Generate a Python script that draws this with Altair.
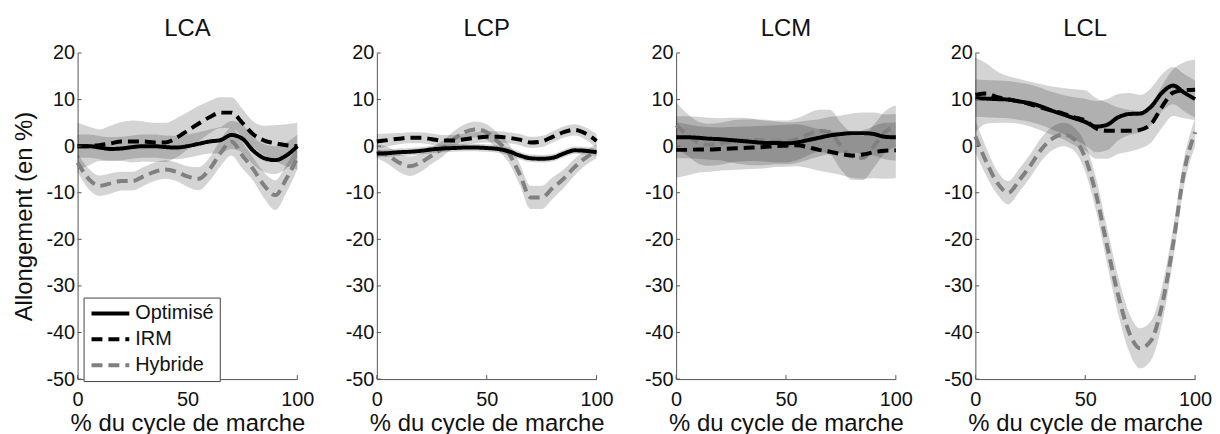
import altair as alt
import pandas as pd

PCT = list(range(0, 101, 5))
PANELS = ["LCA", "LCP", "LCM", "LCL"]
SERIES = ["Optimisé", "IRM", "Hybride"]
YTICKS = [-50, -40, -30, -20, -10, 0, 10, 20]
XTICKS = [0, 50, 100]

# ---- means, at PCT = 0, 5, ..., 100 ----
LCA_OPT = [0, 0, -0.3, -0.6, -0.5, -0.2, 0, 0, -0.2, -0.3, 0, 0.5, 1, 1.3, 2.4, 1.6, -1, -2.6, -3, -2, 0]
LCA_IRM = [0, 0, 0.2, 0.6, 1, 1, 1, 0.8, 0.8, 1.8, 3.3, 4.8, 6.2, 7.2, 7.2, 5, 2.5, 1.2, 0.6, 0.2, 0]
LCA_HYB = [-3.5, -7, -8.5, -8, -7.5, -7.5, -6.5, -5.5, -5, -5.5, -6.5, -7, -5, -1.5, 1, -2, -5, -8.5, -10.5, -7, -2.5]

LCP_OPT = [-1.6, -1.5, -1.3, -1.2, -1, -0.7, -0.5, -0.4, -0.3, -0.3, -0.4, -0.6, -1.1, -2, -2.6, -2.7, -2.5, -1.6, -0.9, -1, -1.3]
LCP_IRM = [1, 1.3, 1.6, 1.8, 1.8, 1.5, 1.2, 1.2, 1.5, 1.8, 2, 2, 1.8, 1.4, 0.8, 1, 2, 3, 3.5, 2.7, 1.1]
LCP_HYB = [-1.1, -2, -3.5, -4.3, -3.5, -2, -0.5, 1.5, 3, 3.6, 3, 1, -1.5, -6, -11, -11, -9, -7, -4.5, -2.5, -1.1]

LCM_OPT = [1.9, 1.9, 1.8, 1.6, 1.5, 1.3, 1.1, 0.9, 0.7, 0.7, 0.6, 0.8, 1.3, 1.8, 2.3, 2.6, 2.8, 2.8, 2.6, 2, 1.9]
LCM_IRM = [-0.8, -0.8, -0.7, -0.7, -0.6, -0.5, -0.4, -0.3, -0.2, 0, 0.1, 0.2, -0.2, -0.8, -1.2, -1.7, -2, -1.8, -1.3, -1, -0.9]
LCM_HYB = [4.5, 2.5, 0.8, 0.3, 0.5, 1, 1.2, 1.3, 1.2, 1, 1, 1.5, 2.5, 3.3, 3, 0, -2.2, -2.5, 0, 3, 4.3]

LCL_OPT = [10.3, 10.2, 10.1, 10, 9.6, 9.2, 8.5, 7.6, 6.8, 6, 5.2, 4.2, 4.6, 6.2, 6.9, 7, 8.5, 11.5, 13, 11.5, 10.1]
LCL_IRM = [11, 11.3, 10.5, 10, 9.6, 9, 8.3, 7.6, 7, 6.2, 5.5, 3.8, 3.3, 3.3, 3.3, 3.5, 4.8, 8.5, 11.5, 12, 12.1]
LCL_HYB = [2.1, -3.4, -7.9, -10, -7.3, -4.2, -0.7, 1.6, 2.5, 1.5, -2.5, -10.5, -21.5, -32, -40, -43.4, -41.7, -34, -21, -5.5, 3]

# ---- standard deviations (half-width of shaded bands) ----
LCA_OPT_SD = [2.5, 2.5, 2.5, 2.5, 2.5, 2.5, 2.5, 2.5, 2.5, 2.5, 2.5, 2.5, 2.6, 2.8, 3, 3, 3, 3, 3, 2.8, 2.5]
LCA_IRM_SD = [5, 4.2, 3.4, 3.8, 4.2, 4.5, 4.3, 4.2, 4.2, 4.2, 4, 3.8, 3.5, 3.3, 3.3, 3, 2.8, 3.2, 3.9, 4.5, 5]
LCA_HYB_SD = [2, 2.2, 2.2, 2.2, 2, 2, 2, 2, 2, 2, 2.2, 2.5, 2.5, 2.8, 3, 2.8, 2.5, 2.8, 3.2, 3, 2.5]

LCP_OPT_SD = [0.8, 0.8, 0.8, 0.8, 0.8, 0.8, 0.8, 0.8, 0.8, 0.8, 0.8, 0.8, 0.8, 0.8, 0.8, 0.8, 0.8, 0.8, 0.8, 0.8, 0.8]
LCP_IRM_SD = [1.6, 1.4, 1.2, 1.2, 1.2, 1.2, 1.2, 1.2, 1.2, 1.2, 1.2, 1.2, 1.2, 1.2, 1.2, 1.2, 1.2, 1.2, 1.2, 1.3, 1.5]
LCP_HYB_SD = [1.5, 1.8, 2, 2.1, 2, 1.8, 1.7, 1.7, 1.7, 1.7, 1.7, 1.8, 2, 2.3, 2.5, 2.5, 2.3, 2, 1.8, 1.6, 1.5]

LCM_OPT_SD = [4.5, 4.5, 4.5, 4.5, 4.5, 4.8, 5, 5, 4.8, 4.6, 4.5, 4.4, 4.2, 4, 4, 4, 4.2, 4.4, 4.6, 4.8, 5]
LCM_IRM_SD = [6, 5.5, 5, 4.8, 4.6, 4.6, 4.6, 4.6, 4.6, 4.5, 4.5, 4.5, 4.5, 4.5, 4.5, 4.5, 4.8, 5.2, 5.6, 6, 6]
LCM_HYB_SD = [5, 4.5, 4.5, 4.5, 4.5, 4.5, 4.5, 4.5, 4.5, 4.5, 4.5, 4.5, 4.5, 4.5, 4.8, 5, 5, 4.8, 4.6, 4.5, 4.5]

LCL_OPT_SD = [4, 4, 4, 4, 4, 4, 4, 4, 4.2, 4.5, 5, 5.5, 5.5, 5, 4.5, 4, 4, 4, 4, 4, 4]
LCL_IRM_SD = [8, 6.5, 5.5, 5, 4.8, 4.8, 5, 5.2, 5.5, 6, 6.5, 6.5, 6, 5, 4.5, 4, 4, 4.5, 5, 6, 6.5]
LCL_HYB_SD = [3.5, 3, 2.5, 2.5, 2.5, 2.5, 2.5, 2.5, 2.5, 2.5, 3, 3.5, 3.8, 4, 4.2, 4.3, 4.2, 4, 3.5, 3, 3]

DATA = {
    "LCA": {"Optimisé": (LCA_OPT, LCA_OPT_SD), "IRM": (LCA_IRM, LCA_IRM_SD), "Hybride": (LCA_HYB, LCA_HYB_SD)},
    "LCP": {"Optimisé": (LCP_OPT, LCP_OPT_SD), "IRM": (LCP_IRM, LCP_IRM_SD), "Hybride": (LCP_HYB, LCP_HYB_SD)},
    "LCM": {"Optimisé": (LCM_OPT, LCM_OPT_SD), "IRM": (LCM_IRM, LCM_IRM_SD), "Hybride": (LCM_HYB, LCM_HYB_SD)},
    "LCL": {"Optimisé": (LCL_OPT, LCL_OPT_SD), "IRM": (LCL_IRM, LCL_IRM_SD), "Hybride": (LCL_HYB, LCL_HYB_SD)},
}

DRAW_ORDER = ["Hybride", "Optimisé", "IRM"]
rows = []
for p in PANELS:
    for s in DRAW_ORDER:
        m, sd = DATA[p][s]
        for k, x in enumerate(PCT):
            rows.append({"panel": p, "serie": s, "pct": x, "mean": m[k],
                         "lo": m[k] - sd[k], "hi": m[k] + sd[k], "ord": DRAW_ORDER.index(s)})
df = pd.DataFrame(rows)

FONT = "Liberation Sans"
W, H = 221, 328
xscale = alt.Scale(domain=[0, 100], nice=False, zero=False)
yscale = alt.Scale(domain=[-50, 20], nice=False, zero=False)
AXC = "#555555"
LBL = "'' + datum.value"


def panel(name, first):
    d = df[df.panel == name]
    xax = alt.Axis(values=XTICKS, title="% du cycle de marche", labelPadding=11, titlePadding=2,
                   labelFlush=False, labelExpr=LBL)
    if first:
        yax = alt.Axis(values=YTICKS, title="Allongement (en %)", labelPadding=3, titlePadding=9,
                       labelFlush=False, labelExpr=LBL)
    else:
        yax = alt.Axis(values=YTICKS, title=None, labelPadding=3, labelFlush=False, labelExpr=LBL)

    band = alt.Chart(d).mark_area(interpolate="monotone", color="black", fillOpacity=0.17).encode(
        x=alt.X("pct:Q", scale=xscale, axis=xax),
        y=alt.Y("lo:Q", scale=yscale, axis=yax),
        y2="hi:Q",
        detail="serie:N",
    )
    if first:
        leg = alt.Legend(title=None, orient="none", legendX=6, legendY=246, symbolType="stroke",
                         symbolSize=1444, symbolStrokeWidth=4, labelFontSize=20, labelFont=FONT,
                         labelColor="#111111", strokeColor="#444444", fillColor="white",
                         padding=6, rowPadding=6, clipHeight=20, labelOffset=4, cornerRadius=0)
    else:
        leg = None
    color = alt.Color("serie:N", scale=alt.Scale(domain=SERIES, range=["#000000", "#000000", "#808080"]), legend=leg)
    dash = alt.StrokeDash("serie:N", scale=alt.Scale(domain=SERIES, range=[[1, 0], [11, 6], [11, 6]]), legend=leg)

    lines = alt.Chart(d).mark_line(interpolate="monotone", strokeWidth=4).encode(
        x=alt.X("pct:Q", scale=xscale, axis=xax),
        y=alt.Y("mean:Q", scale=yscale, axis=yax),
        color=color,
        strokeDash=dash,
        order="ord:Q",
    )
    yt = alt.Chart(pd.DataFrame({"v": YTICKS})).mark_rule(color=AXC, strokeWidth=1).encode(
        y=alt.Y("v:Q", scale=yscale, axis=yax), x=alt.value(0), x2=alt.value(4))
    xt = alt.Chart(pd.DataFrame({"p": XTICKS})).mark_rule(color=AXC, strokeWidth=1).encode(
        x=alt.X("p:Q", scale=xscale, axis=xax), y=alt.value(H), y2=alt.value(H - 4))

    return alt.layer(band, lines, yt, xt).properties(
        width=W, height=H,
        title=alt.TitleParams(name, fontSize=24, font=FONT, fontWeight="normal", color="#111111", offset=2),
    ).resolve_scale(color="independent", strokeDash="independent")


chart = alt.hconcat(
    *[panel(p, i == 0) for i, p in enumerate(PANELS)], spacing=80, bounds="flush"
).resolve_scale(color="independent", strokeDash="independent").resolve_legend(
    color="independent", strokeDash="independent"
).configure_axis(
    labelFont=FONT, labelFontSize=20, titleFont=FONT, titleFontSize=24, titleFontWeight="normal",
    labelColor="#111111", titleColor="#111111", domainColor=AXC, domainWidth=1, tickSize=0, grid=False,
).configure_view(stroke=None).properties(padding={"left": 5, "top": 8, "right": 0, "bottom": 0})

chart.save("out.html", embed_options={"renderer": "svg", "actions": False})
